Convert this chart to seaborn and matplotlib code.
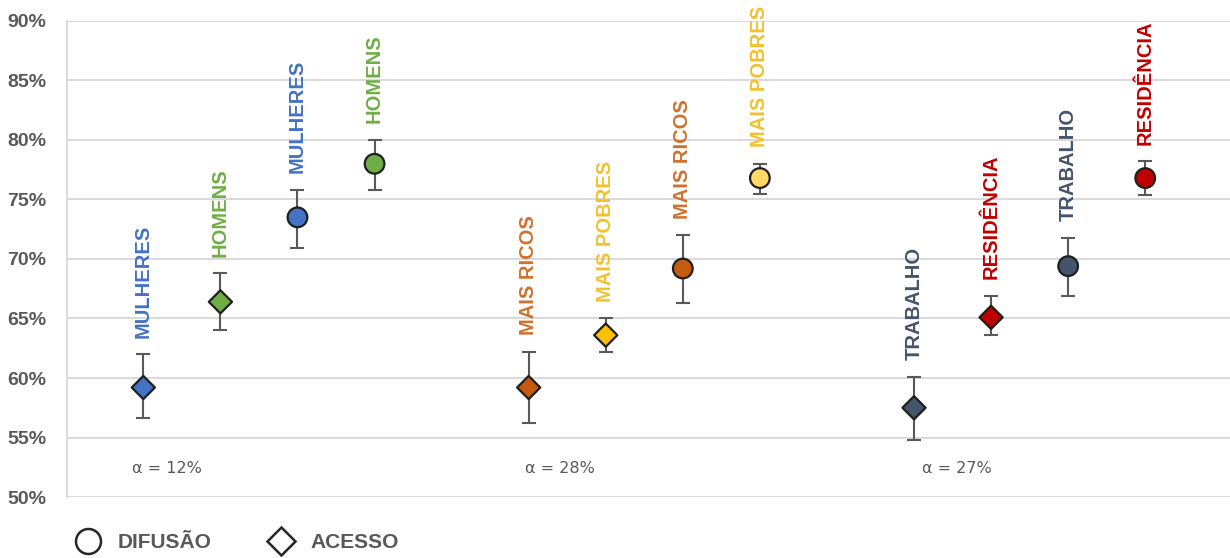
import matplotlib
matplotlib.use("Agg")
import matplotlib.pyplot as plt
from matplotlib.lines import Line2D
from matplotlib.ticker import FuncFormatter
import seaborn as sns
import pandas as pd

# --- data -------------------------------------------------------------
positions = [0, 1, 2, 3, 5, 6, 7, 8, 10, 11, 12, 13]
labels = ["MULHERES", "HOMENS", "MULHERES", "HOMENS",
          "MAIS RICOS", "MAIS POBRES", "MAIS RICOS", "MAIS POBRES",
          "TRABALHO", "RESIDÊNCIA", "TRABALHO", "RESIDÊNCIA"]
kinds = ["ACESSO", "ACESSO", "DIFUSÃO", "DIFUSÃO"] * 3
values = [59.2, 66.4, 73.5, 78.0,
          59.2, 63.6, 69.2, 76.8,
          57.5, 65.1, 69.4, 76.8]
upper = [62.0, 68.8, 75.8, 80.0,
         62.2, 65.0, 72.0, 78.0,
         60.1, 66.9, 71.8, 78.2]
lower = [56.6, 64.0, 70.9, 75.8,
         56.2, 62.2, 66.3, 75.5,
         54.8, 63.6, 66.9, 75.4]
fill_colors = ["#4472C4", "#70AD47", "#4472C4", "#70AD47",
               "#C55A11", "#FFC000", "#C55A11", "#FFD966",
               "#44546A", "#C00000", "#44546A", "#C00000"]
label_colors = ["#4472C4", "#70AD47", "#4472C4", "#70AD47",
                "#D0712E", "#F2C12E", "#D0712E", "#F2C12E",
                "#44546A", "#C00000", "#44546A", "#C00000"]
alpha_text = ["α = 12%", "α = 28%", "α = 27%"]
alpha_x = [0.3, 5.4, 10.55]
alpha_y = 52.4
y_ticks = [50, 55, 60, 65, 70, 75, 80, 85, 90]

df = pd.DataFrame({"pos": positions, "valor": values, "tipo": kinds,
                   "id": range(len(values))})

# --- figure -----------------------------------------------------------
sns.set_theme(style="white")
sans = ["Liberation Sans", "DejaVu Sans"]
plt.rcParams["font.family"] = sans

fig = plt.figure(figsize=(12.3, 5.58), dpi=100)
ax = fig.add_axes([0.0545, 0.1093, 0.9455, 0.8531])

ax.set_xlim(-0.99, 14.1)
ax.set_ylim(50, 90)
ax.set_yticks(y_ticks)
ax.yaxis.set_major_formatter(FuncFormatter(lambda v, _: f"{v:.0f}%"))
ax.grid(axis="y", color="#D9D9D9", linewidth=1.4)
ax.set_axisbelow(True)
ax.set_xticks([])
for side in ["top", "right", "bottom"]:
    ax.spines[side].set_visible(False)
ax.spines["left"].set_color("#D9D9D9")
ax.spines["left"].set_linewidth(1.4)
ax.tick_params(axis="y", length=0, pad=15, labelsize=14,
               labelcolor="#595959")
for t in ax.get_yticklabels():
    t.set_fontweight("bold")

# error bars
err_low = [v - lo for v, lo in zip(values, lower)]
err_high = [hi - v for v, hi in zip(values, upper)]
ax.errorbar(positions, values, yerr=[err_low, err_high], fmt="none",
            ecolor="#595959", elinewidth=1.5, capsize=4.8, capthick=1.5,
            zorder=2)

# points
sns.scatterplot(data=df, x="pos", y="valor", hue="id",
                palette=fill_colors, style="tipo",
                markers={"DIFUSÃO": "o", "ACESSO": "D"},
                size="tipo", sizes={"DIFUSÃO": 200, "ACESSO": 140},
                edgecolor="#1F1F1F", linewidth=1.6,
                legend=False, ax=ax, zorder=3)
ax.set_xlabel("")
ax.set_ylabel("")

# vertical category labels above each interval
for x, hi, lab, col in zip(positions, upper, labels, label_colors):
    ax.annotate(lab, xy=(x, hi), xytext=(0, 12), textcoords="offset points",
                rotation=90, ha="center", va="bottom", fontsize=14.5,
                fontweight="bold", color=col)

for x, txt in zip(alpha_x, alpha_text):
    ax.text(x, alpha_y, txt, ha="center", va="center", fontsize=11.5,
            color="#595959", family=["DejaVu Sans"])

# legend
handles = [
    Line2D([], [], marker="o", linestyle="none", markersize=18,
           markerfacecolor="white", markeredgecolor="#262626",
           markeredgewidth=1.8, label="DIFUSÃO"),
    Line2D([], [], marker="D", linestyle="none", markersize=14,
           markerfacecolor="white", markeredgecolor="#262626",
           markeredgewidth=1.8, label="ACESSO"),
]
leg = fig.legend(handles=handles, loc="center left",
                 bbox_to_anchor=(0.051, 0.027), ncol=2, frameon=False,
                 handletextpad=0.75, columnspacing=2.6, borderpad=0,
                 handlelength=1.4,
                 prop={"family": sans, "weight": "bold", "size": 15})
for t in leg.get_texts():
    t.set_color("#595959")

fig.savefig("out.png", dpi=100)
